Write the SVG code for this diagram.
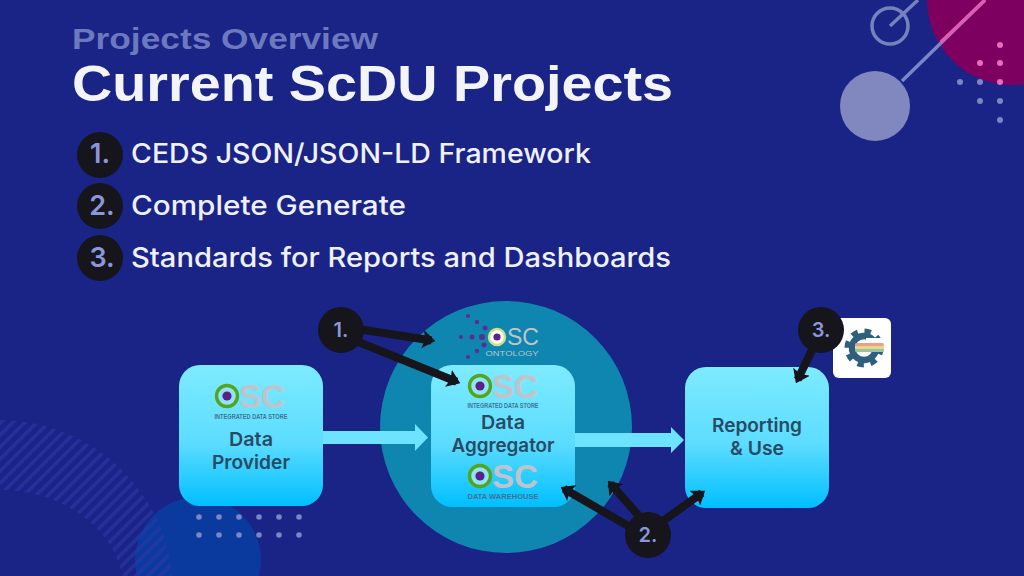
<svg xmlns="http://www.w3.org/2000/svg" width="1024" height="576" viewBox="0 0 1024 576">
<style>
.title{font-family:"Liberation Sans",Arial,sans-serif;font-weight:700}
.item{font-family:"Inter","Noto Sans","Liberation Sans",sans-serif;font-weight:500;font-size:27px;fill:#eef1fb}
.num{font-family:"Inter","Noto Sans","Liberation Sans",sans-serif;font-weight:600;font-size:27px;fill:#8a97dc;text-anchor:middle}
.small{font-size:20px}
.lbl{font-family:"Inter","Noto Sans","Liberation Sans",sans-serif;font-weight:600;font-size:19px;fill:#294a63;text-anchor:middle}
.sc{font-family:"Liberation Sans",sans-serif;font-weight:700;font-size:33px;fill:#c0c4c9}
.sub{font-family:"Liberation Sans",sans-serif;font-weight:700;font-size:6.4px;fill:#3f7396;text-anchor:middle}
.bdot{fill:#7a86c6}
.pdot{fill:#5c2d8c}
.blk{fill:#15151b}
.arr{stroke:#15151b;stroke-width:8;fill:none;marker-end:url(#ah)}
.flow{fill:#6ee3ff}
.box{fill:url(#bx)}
</style>
<defs>
<linearGradient id="bx" x1="0" y1="0" x2="0" y2="1"><stop offset="0" stop-color="#7eebff"/><stop offset=".55" stop-color="#5cdcff"/><stop offset="1" stop-color="#00bfff"/></linearGradient>
<marker id="ah" viewBox="0 0 10 10" refX="7" refY="5" markerWidth="1.6" markerHeight="2.3" orient="auto" preserveAspectRatio="none"><path d="M0 0L10 5L0 10L2 5Z" fill="#15151b"/></marker>
<pattern id="st" width="8.500" height="8.500" patternUnits="userSpaceOnUse" patternTransform="rotate(-45)"><rect width="8.500" height="3.500" fill="#2a36a6"/></pattern>
<g id="osc"><circle r="10.5" fill="#8fe3fb" stroke="#55a51c" stroke-width="3.4"/><circle r="4.6" fill="#5a2188"/><text class="sc" x="12" y="12" textLength="46" lengthAdjust="spacingAndGlyphs">SC</text></g>
</defs>
<rect id="background" width="1024" height="576" fill="#1a2386"/>
<g id="decor">
<circle cx="1012" cy="0" r="85" fill="#7d0060"/>
<path d="M902 81L985 0" stroke="#7a86c6" stroke-width="3.5"/>
<path d="M941 42L985 0" stroke="#e25cb5" stroke-width="3.5"/>
<circle cx="875" cy="106" r="35" fill="#8088bf"/>
<circle cx="890" cy="26" r="18" fill="none" stroke="#7582bd" stroke-width="3.5"/>
<path d="M890 26L918 0" stroke="#7582bd" stroke-width="3.5"/>
<g class="bdot"><circle cx="960" cy="82" r="3"/><circle cx="980" cy="82" r="3"/><circle cx="980" cy="101" r="3"/><circle cx="1000" cy="101" r="3"/><circle cx="1000" cy="120" r="3"/></g>
<g fill="#e76cc0"><circle cx="1000" cy="45" r="3"/><circle cx="980" cy="63" r="3"/><circle cx="1000" cy="63" r="3"/><circle cx="1000" cy="82" r="3"/></g>
<circle cx="198" cy="560" r="63" fill="#0b3a9f"/>
<path d="M0 420A173 172 0 0 1 173 592H124A124 102 0 0 0 0 490Z" fill="url(#st)" opacity=".7"/>
<g class="bdot"><circle cx="199" cy="517" r="2.8"/><circle cx="219" cy="517" r="2.8"/><circle cx="239" cy="517" r="2.8"/><circle cx="259" cy="517" r="2.8"/><circle cx="279" cy="517" r="2.8"/><circle cx="299" cy="517" r="2.8"/><circle cx="199" cy="535" r="2.8"/><circle cx="219" cy="535" r="2.8"/><circle cx="239" cy="535" r="2.8"/><circle cx="259" cy="535" r="2.8"/><circle cx="279" cy="535" r="2.8"/><circle cx="299" cy="535" r="2.8"/></g>
</g>
<g id="heading">
<text class="title" x="72" y="49" font-size="29" fill="#6d79bf" textLength="306" lengthAdjust="spacingAndGlyphs">Projects Overview</text>
<text class="title" x="72" y="100.500" font-size="50" fill="#f3f4f8" textLength="601" lengthAdjust="spacingAndGlyphs">Current ScDU Projects</text>
</g>
<g id="list">
<g id="item1"><circle class="blk" cx="100" cy="155" r="23"/><text class="num" x="100" y="163">1.</text><text class="item" x="131" y="163" textLength="460" lengthAdjust="spacingAndGlyphs">CEDS JSON/JSON-LD Framework</text></g>
<g id="item2"><circle class="blk" cx="100" cy="206" r="23"/><text class="num" x="102" y="215">2.</text><text class="item" x="131" y="215" textLength="275" lengthAdjust="spacingAndGlyphs">Complete Generate</text></g>
<g id="item3"><circle class="blk" cx="100" cy="258" r="23"/><text class="num" x="102" y="267">3.</text><text class="item" x="131" y="267" textLength="540" lengthAdjust="spacingAndGlyphs">Standards for Reports and Dashboards</text></g>
</g>
<circle id="halo" cx="506" cy="427" r="126" fill="#0e86b0"/>
<g id="ontology-logo">
<g class="pdot"><circle cx="468" cy="316" r="2"/><circle cx="477" cy="322" r="2.2"/><circle cx="485" cy="328" r="2.5"/><circle cx="461" cy="337" r="2"/><circle cx="472" cy="337" r="2.5"/><circle cx="482" cy="337" r="3"/><circle cx="484" cy="345" r="2.5"/><circle cx="477" cy="351" r="2.2"/><circle cx="468" cy="357" r="2"/></g>
<circle cx="497" cy="337" r="8" fill="#fff" stroke="#cfe08a" stroke-width="2.4"/><circle cx="497" cy="337" r="3.6" fill="#5a2188"/>
<text class="sc" x="507" y="344.500" style="font-size:23px;font-weight:400" textLength="32" lengthAdjust="spacingAndGlyphs">SC</text>
<text class="sub" x="512" y="355.500" style="font-size:6.800px;font-weight:400;fill:#b9c5cc" textLength="53" lengthAdjust="spacingAndGlyphs">ONTOLOGY</text>
</g>
<g id="data-provider">
<rect class="box" x="179" y="365" width="144" height="141" rx="21"/>
<use href="#osc" x="227" y="396"/>
<text class="sub" x="251" y="419" textLength="73" lengthAdjust="spacingAndGlyphs">INTEGRATED DATA STORE</text>
<text class="lbl" x="251" y="446" textLength="44" lengthAdjust="spacingAndGlyphs">Data</text>
<text class="lbl" x="251" y="469" textLength="78" lengthAdjust="spacingAndGlyphs">Provider</text>
</g>
<g id="data-aggregator">
<rect class="box" x="431" y="365" width="144" height="142" rx="21"/>
<use href="#osc" x="480" y="386"/>
<text class="sub" x="503" y="408" textLength="71" lengthAdjust="spacingAndGlyphs">INTEGRATED DATA STORE</text>
<text class="lbl" x="503" y="429" textLength="44" lengthAdjust="spacingAndGlyphs">Data</text>
<text class="lbl" x="503" y="452" textLength="103" lengthAdjust="spacingAndGlyphs">Aggregator</text>
<use href="#osc" x="480" y="476"/>
<text class="sub" x="503" y="499" textLength="71" lengthAdjust="spacingAndGlyphs">DATA WAREHOUSE</text>
</g>
<g id="reporting">
<rect class="box" x="685" y="367" width="144" height="141" rx="21"/>
<text class="lbl" x="757" y="432" textLength="90" lengthAdjust="spacingAndGlyphs">Reporting</text>
<text class="lbl" x="757" y="455" textLength="54" lengthAdjust="spacingAndGlyphs">&amp; Use</text>
</g>
<g id="gear-logo">
<rect x="833" y="318" width="58" height="60" rx="6" fill="#fff"/>
<circle cx="864" cy="348" r="12" fill="none" stroke="#2f5f7f" stroke-width="6.500"/>
<circle cx="864" cy="348" r="17" fill="none" stroke="#2f5f7f" stroke-width="5" stroke-dasharray="6.500 6.850"/>
<rect x="866" y="338" width="21" height="5" fill="#fff"/>
<rect x="855" y="343" width="29" height="3" rx="1.500" fill="#e5a28e"/>
<rect x="855" y="346" width="29" height="3" fill="#e8d68f"/>
<rect x="855" y="349" width="29" height="3" rx="1.500" fill="#9ac3a0"/>
</g>
<g id="connectors">
<path class="flow" d="M323 431H415V424L428 437.500L415 451V444H323Z"/>
<path class="flow" d="M575 433H671V427L684 440L671 453V447H575Z"/>
<path class="arr" d="M358 329L431.500 340.500"/>
<path class="arr" d="M356 341L456.700 381.700"/>
<path class="arr" d="M630 527L564 488.800"/>
<path class="arr" d="M640 517L610.400 483.700"/>
<path class="arr" d="M663 521L702 493"/>
<path class="arr" d="M812 350L797.600 379.800"/>
</g>
<g id="badge1"><circle class="blk" cx="341" cy="330" r="23"/><text class="num small" x="341" y="337" style="font-size:20px">1.</text></g>
<g id="badge2"><circle class="blk" cx="648" cy="535" r="23"/><text class="num small" x="648" y="542" style="font-size:20px">2.</text></g>
<g id="badge3"><circle class="blk" cx="821" cy="330" r="23"/><text class="num small" x="821" y="337" style="font-size:20px">3.</text></g>
</svg>
